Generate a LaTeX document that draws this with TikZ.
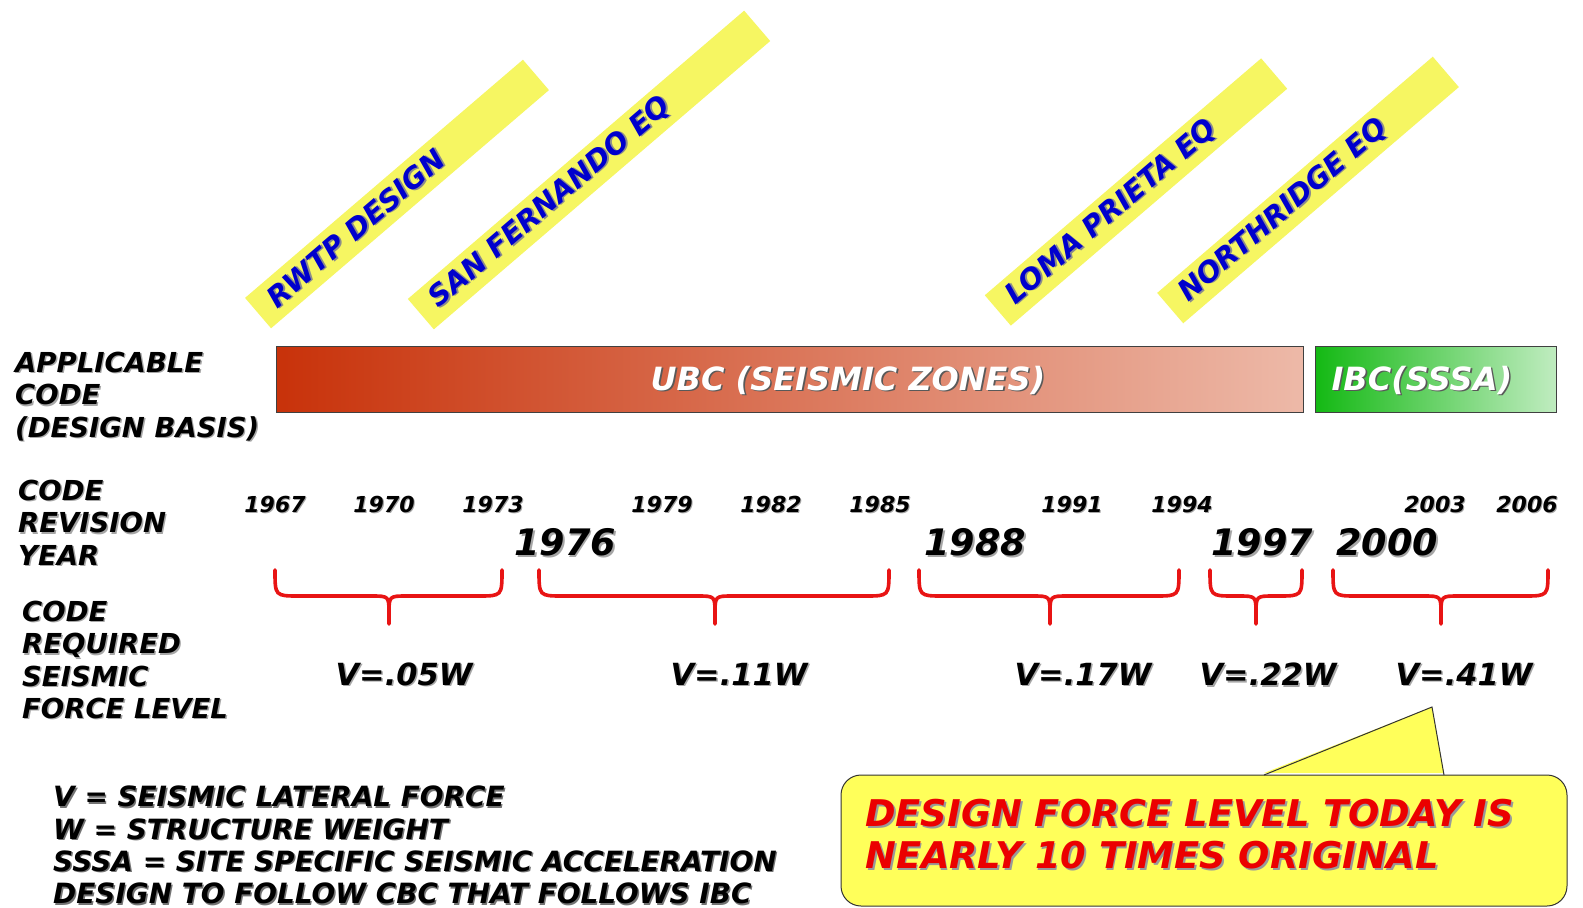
\documentclass[tikz,border=0pt]{standalone}
\usepackage{fontspec}
\setmainfont{DejaVu Sans}
\definecolor{bandyellow}{RGB}{246,246,98}
\definecolor{bandblue}{RGB}{0,0,205}
\definecolor{callyellow}{RGB}{255,255,90}
\definecolor{bracered}{RGB}{232,20,20}
\definecolor{ubcleft}{RGB}{200,50,10}
\definecolor{ubcright}{RGB}{237,185,168}
\definecolor{ibcleft}{RGB}{20,185,20}
\definecolor{ibcright}{RGB}{192,236,192}
\definecolor{calltextred}{RGB}{235,0,0}
\newcommand{\shtxt}[2][black!35]{\makebox[0pt][l]{\hspace{0.05em}\raisebox{-0.05em}{\textcolor{#1}{#2}}}#2}
\newcommand{\rbrk}[3]{%
  \draw[brc] (#1,570) .. controls (#1,596) .. ({#1+24},596) -- ({#2-18},596) .. controls (#2,596) .. (#2,614) -- (#2,624);
  \draw[brc] (#3,570) .. controls (#3,596) .. ({#3-24},596) -- ({#2+18},596) .. controls (#2,596) .. (#2,614);}
\begin{document}
\begin{tikzpicture}[x=1pt,y=-1pt,
  lbl/.style={font=\fontsize{27.5}{32.3}\selectfont\bfseries\itshape, align=left, inner sep=0pt, anchor=north west},
  yrs/.style={font=\fontsize{22}{26}\selectfont\bfseries\itshape, inner sep=0pt},
  yrb/.style={font=\fontsize{36.5}{42}\selectfont\bfseries\itshape, inner sep=0pt},
  vlab/.style={font=\fontsize{30.5}{36}\selectfont\bfseries\itshape, inner sep=0pt},
  band/.style={fill=bandyellow, text=bandblue, rotate=40.6, minimum height=40pt, inner xsep=17pt, inner ysep=0pt, align=left, font=\fontsize{28.5}{32}\selectfont\bfseries\itshape},
  codebar/.style={draw=black!75, line width=1pt, minimum height=66pt, inner ysep=0pt, text height=22pt, text depth=0pt, text=white, font=\fontsize{32}{36}\selectfont\bfseries\itshape},
  brc/.style={draw=bracered, line width=3.6pt, line cap=round}]
\useasboundingbox (0,0) rectangle (1583,908);
\fill[white] (0,0) rectangle (1583,908);
% event bands
\node[band, minimum width=366pt, text width=332pt] (rwtp) at (397,194) {\shtxt[black!45]{RWTP DESIGN}};
\node[band, minimum width=443pt, text width=409pt] (sanf) at (589,170) {\shtxt[black!45]{SAN FERNANDO EQ}};
\node[band, minimum width=364pt, text width=330pt] (loma) at (1136,192) {\shtxt[black!45]{LOMA PRIETA EQ}};
\node[band, minimum width=363pt, text width=329pt] (nrth) at (1308,190) {\shtxt[black!45]{NORTHRIDGE EQ}};
% code bars
\node[codebar, left color=ubcleft, right color=ubcright, minimum width=1027pt, inner xsep=0pt] (ubc) at (789.5,379) {\hspace{117pt}\shtxt[black!65]{UBC (SEISMIC ZONES)}};
\node[codebar, left color=ibcleft, right color=ibcright, inner xsep=16pt, text width=209pt, align=left, anchor=west] (ibc) at (1315,379) {\shtxt[black!65]{IBC(SSSA)}};
% left labels
\node[lbl] (lab1) at (15,352) {\shtxt{APPLICABLE}\\\shtxt{CODE}\\\shtxt{(DESIGN BASIS)}};
\node[lbl] (lab2) at (18,480) {\shtxt{CODE}\\\shtxt{REVISION}\\\shtxt{YEAR}};
\node[lbl] (lab3) at (22,601) {\shtxt{CODE}\\\shtxt{REQUIRED}\\\shtxt{SEISMIC}\\\shtxt{FORCE LEVEL}};
% small years
\node[yrs] (y67) at (275,505) {\shtxt{1967}};
\node[yrs] (y70) at (384,505) {\shtxt{1970}};
\node[yrs] (y73) at (493,505) {\shtxt{1973}};
\node[yrs] (y79) at (662,505) {\shtxt{1979}};
\node[yrs] (y82) at (771,505) {\shtxt{1982}};
\node[yrs] (y85) at (880,505) {\shtxt{1985}};
\node[yrs] (y91) at (1072,505) {\shtxt{1991}};
\node[yrs] (y94) at (1182,505) {\shtxt{1994}};
\node[yrs] (y03) at (1435,505) {\shtxt{2003}};
\node[yrs] (y06) at (1527,505) {\shtxt{2006}};
% big years
\node[yrb] (y76) at (565,543) {\shtxt{1976}};
\node[yrb] (y88) at (975,543) {\shtxt{1988}};
\node[yrb] (y97) at (1262,543) {\shtxt{1997}};
\node[yrb] (y00) at (1387,543) {\shtxt{2000}};
% brackets
\rbrk{275}{389}{502}
\rbrk{539}{715}{889}
\rbrk{919}{1050}{1179}
\rbrk{1210}{1256}{1302}
\rbrk{1333}{1441}{1548}
% force levels
\node[vlab] (v1) at (404,675) {\shtxt{V=.05W}};
\node[vlab] (v2) at (739,675) {\shtxt{V=.11W}};
\node[vlab] (v3) at (1083,675) {\shtxt{V=.17W}};
\node[vlab] (v4) at (1268,675) {\shtxt{V=.22W}};
\node[vlab] (v5) at (1464,675) {\shtxt{V=.41W}};
% legend
\node[lbl, font=\fontsize{27.9}{32.3}\selectfont\bfseries\itshape] (legend) at (53,786) {\shtxt[black!55]{V = SEISMIC LATERAL FORCE}\\\shtxt[black!55]{W = STRUCTURE WEIGHT}\\\shtxt[black!55]{SSSA = SITE SPECIFIC SEISMIC ACCELERATION}\\\shtxt[black!55]{DESIGN TO FOLLOW CBC THAT FOLLOWS IBC}};
% callout
\node[draw=black!80, line width=1pt, fill=callyellow, rounded corners=20pt, minimum width=726pt, minimum height=131pt, inner sep=0pt] (callout) at (1204,840.5) {};
\coordinate (pa) at (1264,775);
\coordinate (ptip) at (1432,707);
\coordinate (pb) at (1444,775);
\fill[callyellow] ([yshift=2pt]pa) -- (ptip) -- ([yshift=2pt]pb) -- cycle;
\draw[black!80, line width=1pt, line join=miter] (pa) -- (ptip) -- (pb);
\node[lbl, font=\fontsize{36.8}{42.4}\selectfont\bfseries\itshape, text=calltextred] (calltext) at (865,799) {\shtxt[black!40]{DESIGN FORCE LEVEL TODAY IS}\\\shtxt[black!40]{NEARLY 10 TIMES ORIGINAL}};
\end{tikzpicture}
\end{document}
